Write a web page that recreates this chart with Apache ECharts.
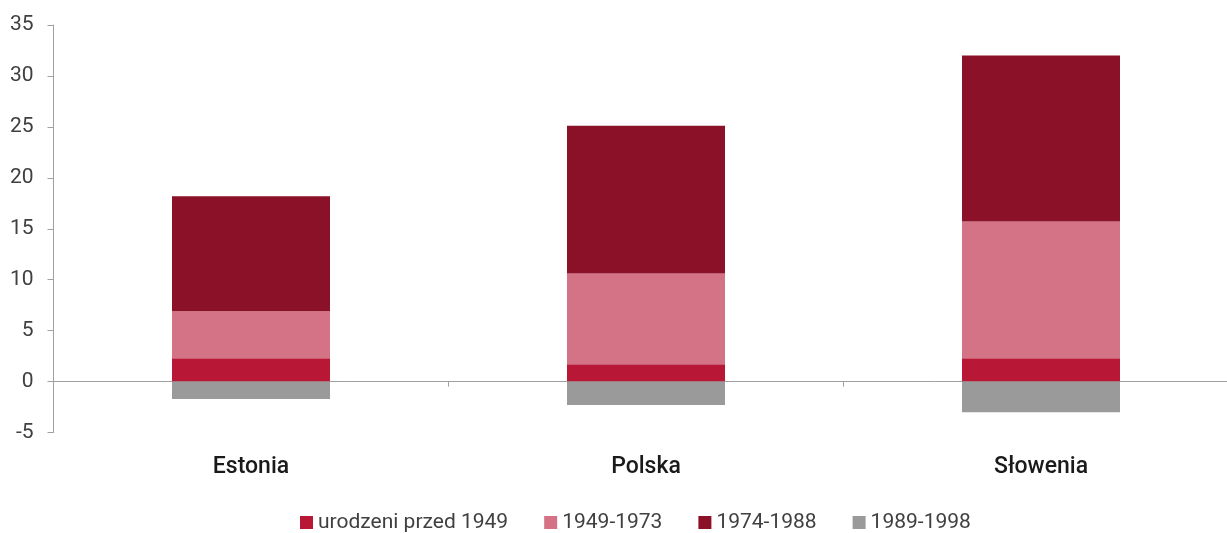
<!DOCTYPE html>
<html>
<head>
<meta charset="utf-8">
<script src="https://cdn.jsdelivr.net/npm/echarts@6/dist/echarts.min.js"></script>
<style>
html,body{margin:0;padding:0;background:#fff;}
#chart{width:1227px;height:533px;}
</style>
</head>
<body>
<div id="chart"></div>
<script>
const categories = ['Estonia', 'Polska', 'Słowenia'];
const seriesNames = ['urodzeni przed 1949', '1949-1973', '1974-1988', '1989-1998'];
const before1949 = [2.3, 1.7, 2.3];
const s1949_1973 = [4.6, 8.9, 13.4];
const s1974_1988 = [11.3, 14.5, 16.3];
const s1989_1998 = [-1.7, -2.3, -3.0];
const colors = ['#B81736', '#D47385', '#8B1129', '#9A9A9A'];

const chart = echarts.init(document.getElementById('chart'), null, {renderer: 'canvas'});
const values = [before1949, s1949_1973, s1974_1988, s1989_1998];
const font = 'Roboto, "Liberation Sans", sans-serif';
chart.setOption({
  animation: false,
  textStyle: {fontFamily: font},
  grid: {left: 53.5, width: 1185, top: 25, height: 407.5, containLabel: false, outerBoundsMode: 'none'},
  legend: {
    top: 507,
    left: 295,
    itemWidth: 13,
    itemHeight: 13,
    itemGap: 36,
    icon: 'rect',
    textStyle: {fontSize: 21, color: '#404040', fontFamily: font},
    data: seriesNames
  },
  xAxis: {
    type: 'category',
    data: categories,
    axisLine: {onZero: true, lineStyle: {color: '#A0A0A0', width: 1}},
    axisTick: {show: true, length: 5, lineStyle: {color: '#A0A0A0'}},
    axisLabel: {
      color: '#1a1a1a', fontSize: 23, fontWeight: 500, fontFamily: font,
      margin: 23
    },
    position: 'bottom'
  },
  yAxis: {
    type: 'value',
    min: -5, max: 35, interval: 5,
    splitLine: {show: false},
    axisLine: {show: true, lineStyle: {color: '#A0A0A0'}},
    axisTick: {show: true, length: 6, lineStyle: {color: '#A0A0A0'}},
    axisLabel: {color: '#404040', fontSize: 21, margin: 20, fontFamily: font}
  },
  series: seriesNames.map((name, i) => ({
    name: name,
    type: 'bar',
    stack: 'total',
    barWidth: '40%',
    itemStyle: {color: colors[i]},
    data: values[i]
  }))
});
</script>
</body>
</html>
